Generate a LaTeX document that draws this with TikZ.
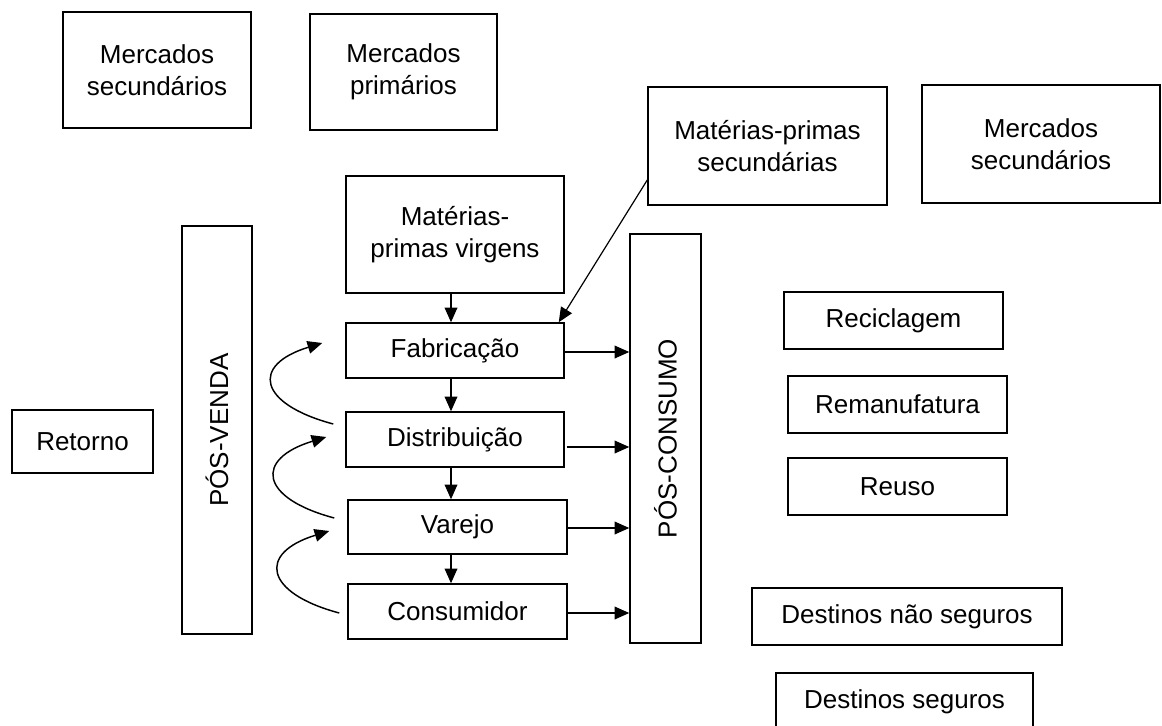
\documentclass[tikz,border=0pt]{standalone}
\usepackage{fontspec}
\setmainfont{Liberation Sans}
\usetikzlibrary{arrows.meta,calc}
\begin{document}
\begin{tikzpicture}[x=0.75pt,y=-0.75pt,
  box/.style={draw, line width=1.1pt, inner sep=0pt, align=center,
              font=\fontsize{19.5}{23.6}\selectfont},
  lbl/.style={inner sep=0pt, font=\fontsize{19.5}{23.6}\selectfont},
  arr/.style={line width=1.1pt, -{Triangle[length=11pt,width=9.5pt]}},
  retarrow/.style={line width=1.1pt, -{Triangle[length=11pt,width=9.5pt]}},
  thinarrow/.style={line width=0.9pt, -{Triangle[length=11pt,width=9.5pt]}}]
\useasboundingbox (0,0) rectangle (1162,725);

% markets and raw materials
\node[box, minimum width=141pt,    minimum height=87pt]   (ms1) at (157,70)     {Mercados\\secundários};
\node[box, minimum width=140.25pt, minimum height=87pt]   (mp)  at (403.5,72)   {Mercados\\primários};
\node[box, minimum width=179.25pt, minimum height=88.5pt] (mps) at (767.5,146)  {Matérias-primas\\secundárias};
\node[box, minimum width=178.5pt,  minimum height=88.5pt] (ms2) at (1041,144)   {Mercados\\secundários};
\node[box, minimum width=163.5pt,  minimum height=87.75pt] (mpv) at (455,234.5) {Matérias-\\primas virgens};

% vertical bands
\node[box, minimum width=52.5pt,  minimum height=306pt]    (posv) at (217,430)    {};
\node[lbl, rotate=90] (posvtxt) at (posv) {PÓS-VENDA};
\node[box, minimum width=53.25pt, minimum height=306.75pt] (posc) at (665.5,438.5) {};
\node[lbl, rotate=90] (posctxt) at (posc) {PÓS-CONSUMO};

% supply chain
\node[box, minimum width=163.5pt,  minimum height=41.25pt] (fab)  at (455,350.5)   {Fabricação};
\node[box, minimum width=163.5pt,  minimum height=41.25pt] (dist) at (455,439.5)   {Distribuição};
\node[box, minimum width=164.25pt, minimum height=40.5pt]  (var)  at (457.5,527)   {Varejo};
\node[box, minimum width=164.25pt, minimum height=41.25pt] (cons) at (457.5,611.5) {Consumidor};

\node[box, minimum width=105.75pt, minimum height=47.25pt] (ret) at (82.5,441.5) {Retorno};

% destinations
\node[box, minimum width=164.25pt, minimum height=42.75pt] (rec) at (893.5,320.5) {Reciclagem};
\node[box, minimum width=164.25pt, minimum height=42.75pt] (rem) at (897.5,404.5) {Remanufatura};
\node[box, minimum width=164.25pt, minimum height=42.75pt] (reu) at (897.5,486.5) {Reuso};
\node[box, minimum width=232.5pt,  minimum height=42.75pt] (dns) at (907,616.5)   {Destinos não seguros};
\node[box, minimum width=192.75pt, minimum height=42.75pt] (ds)  at (904.5,701.5) {Destinos seguros};

% forward flow
\draw[arr] ($(mpv.south)+(-4,0)$)  -- ($(fab.north)+(-4,0)$);
\draw[arr] ($(fab.south)+(-4,0)$)  -- ($(dist.north)+(-4,0)$);
\draw[arr] ($(dist.south)+(-4,0)$) -- ($(var.north)+(-6.5,0)$);
\draw[arr] ($(var.south)+(-6.5,0)$) -- ($(cons.north)+(-6.5,0)$);

% secondary raw materials into manufacturing
\draw[thinarrow] ($(mps.west)+(0,34)$) -- ($(fab.north east)+(-6,0)$);

% flows into post-consumption
\coordinate (f1) at ($(fab.east)+(0,1.5)$);
\coordinate (f2) at ($(dist.east)+(2,7.5)$);
\coordinate (f3) at ($(var.east)+(0,1)$);
\coordinate (f4) at ($(cons.east)+(0,1.5)$);
\draw[arr] (f1) -- (f1 -| posc.west);
\draw[arr] (f2) -- (f2 -| posc.west);
\draw[arr] (f3) -- (f3 -| posc.west);
\draw[arr] (f4) -- (f4 -| posc.west);

% post-sale returns
\draw[retarrow] ($(dist.west)+(-12,-15.5)$) .. controls +(-75,-20) and +(-72,22) .. ($(fab.west)+(-23,-7.5)$);
\draw[retarrow] ($(var.west)+(-13,-9)$)     .. controls +(-75,-20) and +(-72,22) .. ($(dist.west)+(-19,-2.5)$);
\draw[retarrow] ($(cons.west)+(-8,1.5)$)    .. controls +(-75,-20) and +(-72,22) .. ($(var.west)+(-18,4)$);
\end{tikzpicture}
\end{document}
